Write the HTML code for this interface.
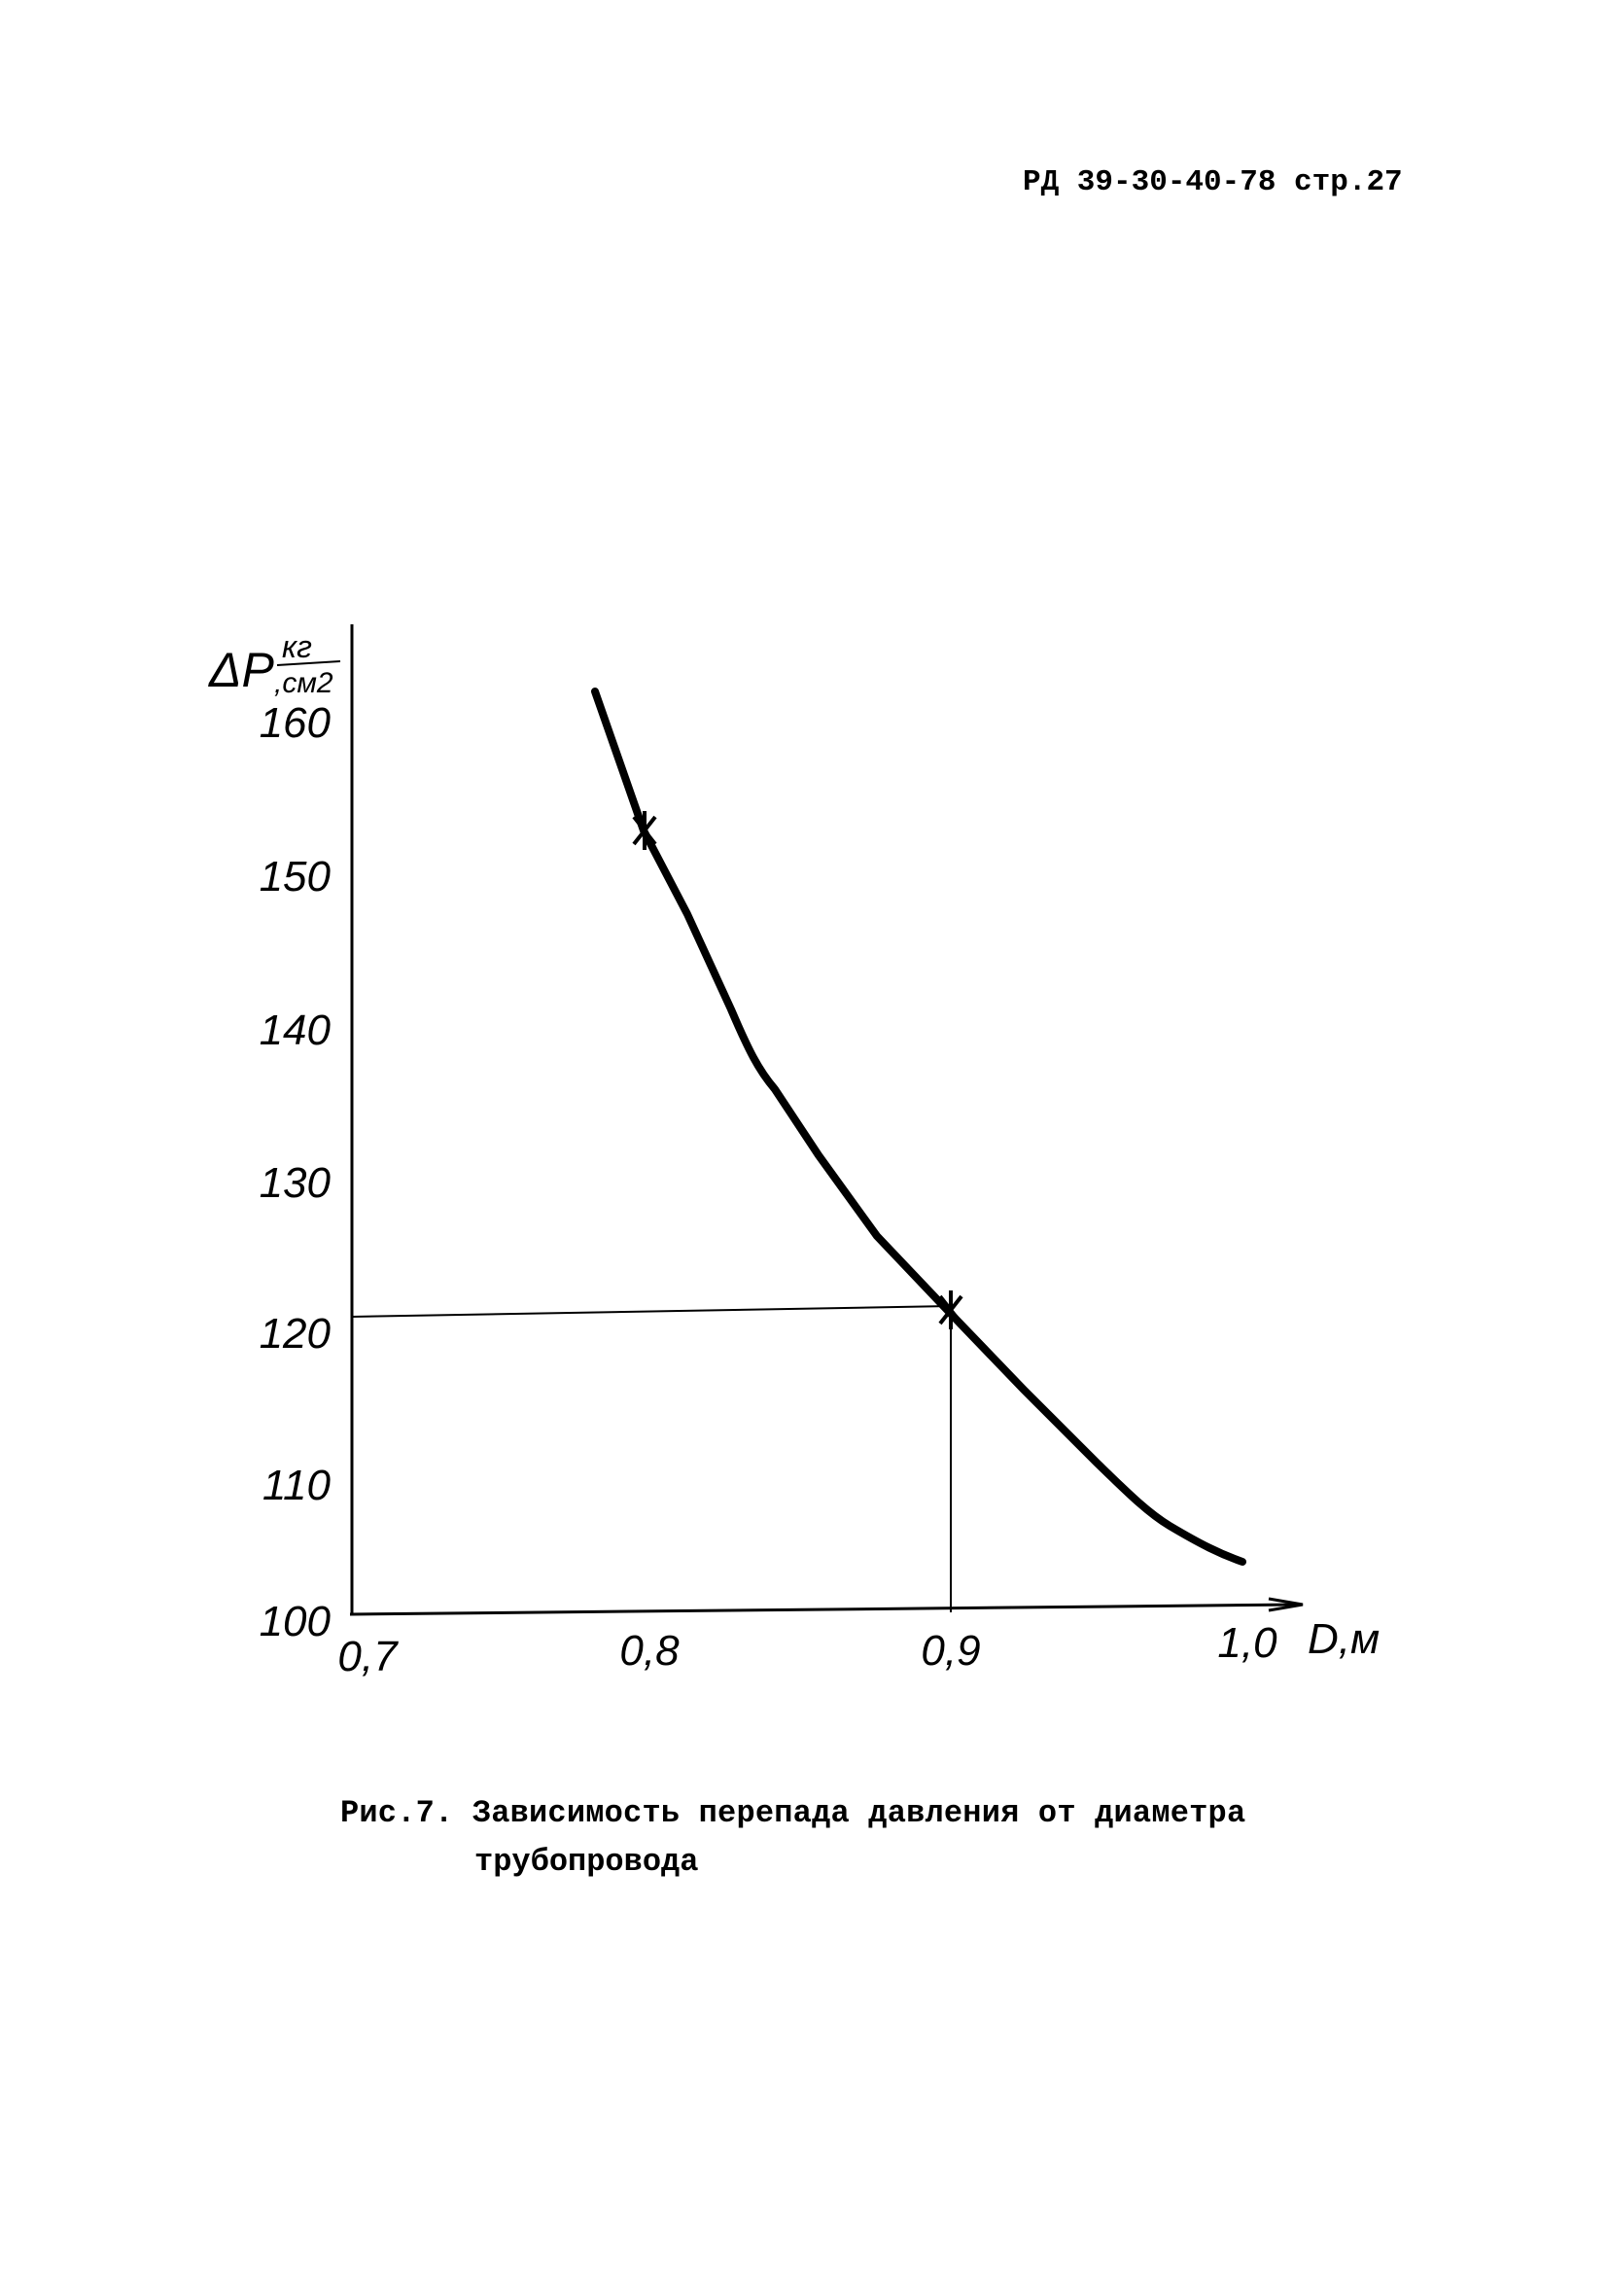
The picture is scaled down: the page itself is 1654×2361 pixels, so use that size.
<!DOCTYPE html>
<html><head><meta charset="utf-8"><style>
html,body{margin:0;padding:0;background:#fff;}
body{width:1654px;height:2361px;position:relative;overflow:hidden;}
.t{position:absolute;font-family:"Liberation Mono",monospace;font-weight:bold;color:#000;white-space:pre;}
</style></head><body>
<div class="t" style="left:1052px;top:170px;font-size:31px;">РД 39-30-40-78 стр.27</div>
<div class="t" style="left:350px;top:1846px;font-size:32px;letter-spacing:0.2px;">Рис.7. Зависимость перепада давления от диаметра</div>
<div class="t" style="left:488px;top:1896px;font-size:32px;">трубопровода</div>
<svg width="1654" height="2361" style="position:absolute;left:0;top:0" xmlns="http://www.w3.org/2000/svg">
<g stroke="#000" fill="none">
<line x1="362" y1="642" x2="362" y2="1660" stroke-width="3"/>
<line x1="360" y1="1660" x2="1335" y2="1650" stroke-width="3"/>
<path d="M1305,1644 L1340,1650 L1305,1656" stroke-width="3"/>
<line x1="362" y1="1354" x2="978" y2="1343" stroke-width="2"/>
<line x1="978" y1="1343" x2="978" y2="1658" stroke-width="2"/>
<path d="M612,711 L662,854 L707,940 L752,1038 C770,1080 780,1100 797,1120 L842,1188 L902,1271 L978,1351 L1053,1429 L1128,1504 C1160,1535 1180,1555 1203,1569 C1235,1588 1255,1598 1278,1606" stroke-width="8" stroke-linecap="round" stroke-linejoin="round"/>
<path d="M652,840 L674,868 M674,840 L652,868 M663,834 L663,874" stroke-width="4"/>
<path d="M967,1333 L989,1361 M989,1333 L967,1361 M978,1327 L978,1367" stroke-width="4"/>
</g>
<g font-family="Liberation Sans, sans-serif" font-style="italic" font-size="44" fill="#000" text-anchor="end">
<text x="340" y="758">160</text>
<text x="340" y="916">150</text>
<text x="340" y="1074">140</text>
<text x="340" y="1231">130</text>
<text x="340" y="1386">120</text>
<text x="340" y="1542">110</text>
<text x="340" y="1682">100</text>
</g>
<g font-family="Liberation Sans, sans-serif" font-style="italic" font-size="44" fill="#000" text-anchor="middle">
<text x="378" y="1718">0,7</text>
<text x="668" y="1712">0,8</text>
<text x="978" y="1712">0,9</text>
<text x="1283" y="1704">1,0</text>
<text x="1345" y="1700" text-anchor="start">D,м</text>
</g>
<g font-family="Liberation Sans, sans-serif" font-style="italic" fill="#000">
<text x="215" y="706" font-size="50">ΔP</text>
<text x="290" y="676" font-size="32">кг</text>
<line x1="285" y1="684" x2="350" y2="680" stroke="#000" stroke-width="2"/>
<text x="282" y="712" font-size="30">,см2</text>
</g>
</svg>
</body></html>
